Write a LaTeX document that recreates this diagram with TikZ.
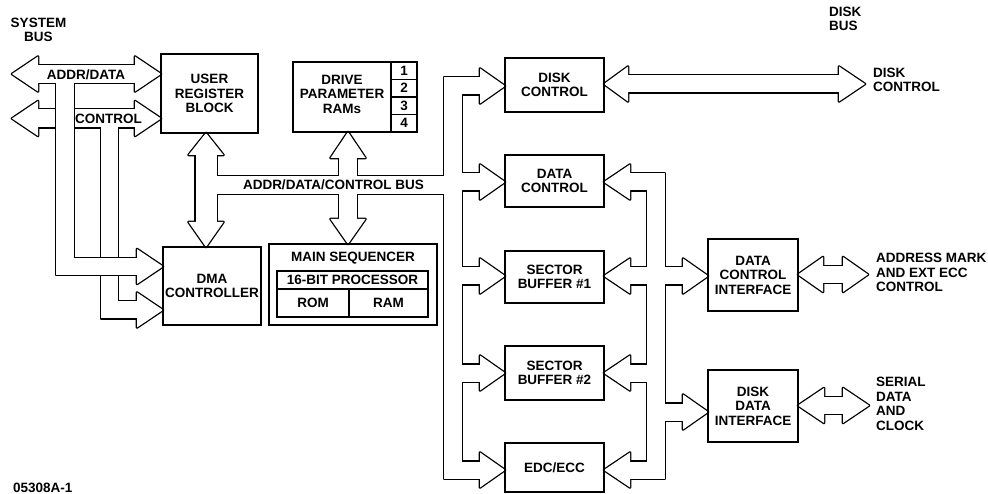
\documentclass[tikz,border=0pt]{standalone}
\usepackage{fontspec}
\setmainfont{Liberation Sans}
\newcommand\harr[4]{(#1,#3-#4)--(#2,#3)--(#1,#3+#4)--cycle}
\newcommand\varr[4]{(#3-#4,#1)--(#3,#2)--(#3+#4,#1)--cycle}
\newcommand\busCtl[1]{%
 \path[#1] \harr{38}{12}{118.5}{17.5};
 \path[#1] (36,109.5) rectangle (137,127.5);
 \path[#1] \harr{135}{161}{118.5}{17.5};
 \path[#1] (101,120) rectangle (118,318.5);
 \path[#1] (101,301.5) rectangle (139,318.5);
 \path[#1] \harr{137}{163}{310}{17.5};
}
\newcommand\busAD[1]{%
 \path[#1] \harr{38}{12}{74}{17.5};
 \path[#1] (36,65) rectangle (137,83);
 \path[#1] \harr{135}{161}{74}{17.5};
 \path[#1] (56,75) rectangle (74,275);
 \path[#1] (56,258) rectangle (139,275);
 \path[#1] \harr{137}{163}{266.5}{17.5};
}
\newcommand\busMain[1]{%
 \path[#1] \varr{155}{133}{206}{17.5};
 \path[#1] (195.5,153) rectangle (216.5,224);
 \path[#1] \varr{222}{247}{206}{17.5};
 \path[#1] (214,176) rectangle (450,194);
 \path[#1] \varr{158}{132}{348}{17.5};
 \path[#1] (339,156) rectangle (357,221);
 \path[#1] \varr{219}{244}{348}{17.5};
 \path[#1] (444,77.5) rectangle (462,478.5);
 \path[#1] (444,77.5) rectangle (482,94.5);
 \path[#1] \harr{480}{505}{86}{17.5};
 \foreach \c in {182,276,373} {
   \path[#1] (455,\c-8.5) rectangle (482,\c+8.5);
   \path[#1] \harr{480}{505}{\c}{17.5};
 }
 \path[#1] (444,461.5) rectangle (482,478.5);
 \path[#1] \harr{480}{505}{470}{17.5};
}
\newcommand\busRight[1]{%
 \path[#1] (647,173.5) rectangle (665,478.5);
 \path[#1] (628,173.5) rectangle (665,190.5);
 \path[#1] \harr{630}{604}{182}{17.5};
 \foreach \c in {276,373} {
   \path[#1] (628,\c-8.5) rectangle (655,\c+8.5);
   \path[#1] \harr{630}{604}{\c}{17.5};
 }
 \path[#1] (628,461.5) rectangle (665,478.5);
 \path[#1] \harr{630}{604}{470}{17.5};
 \foreach \c in {276,412} {
   \path[#1] (655,\c-8.5) rectangle (685,\c+8.5);
   \path[#1] \harr{683}{708}{\c}{17.5};
 }
}
\newcommand\dblarr[6]{%
 \path[#6] \harr{#2}{#1}{#5}{17.5};
 \path[#6] (#2-2,#5-8.5) rectangle (#3+2,#5+8.5);
 \path[#6] \harr{#3}{#4}{#5}{17.5};
}
\tikzset{
 txt/.style={font=\bfseries\fontsize{13.5}{14.5}\selectfont},
 lbl/.style={txt, inner sep=0pt, align=center},
 box/.style={lbl, draw, line width=1.6pt},
 cell/.style={lbl, draw, line width=1.3pt},
 outl/.style={draw, line width=2.6pt, line join=round},
 inner/.style={fill=white},
}
\begin{document}
\begin{tikzpicture}[x=1pt,y=-1pt]
\useasboundingbox (0,0) rectangle (988,494);
% hollow buses
\busCtl{outl}\busCtl{inner}
\busAD{outl}\busAD{inner}
\busMain{outl}\busMain{inner}
\busRight{outl}\busRight{inner}
\dblarr{604}{628}{839}{865}{84}{outl}\dblarr{604}{628}{839}{865}{84}{inner}
\dblarr{798}{823}{843}{868}{274.5}{outl}\dblarr{798}{823}{843}{868}{274.5}{inner}
\dblarr{798}{824}{843}{869}{405.5}{outl}\dblarr{798}{824}{843}{869}{405.5}{inner}
% boxes
\node[box, minimum width=97pt, minimum height=79pt] (urb) at (209.5,93.5) {USER\\REGISTER\\BLOCK};
\node[box, minimum width=98pt, minimum height=78pt] (dma) at (212,286) {DMA\\CONTROLLER};
\node[box, minimum width=98pt, minimum height=70pt] (dpr) at (342,97) {};
\node[lbl] (dprt) at (342,94) {DRIVE\\PARAMETER\\RAMs};
\foreach \k in {1,2,3,4}
  \node[cell, minimum width=26pt, minimum height=17.5pt] (r\k) at (404,53.25+17.5*\k) {\k};
\node[box, minimum width=168pt, minimum height=81pt] (ms) at (353,284.5) {};
\node[lbl] (mst) at (353,258) {MAIN SEQUENCER};
\node[cell, minimum width=151pt, minimum height=18pt] (proc) at (352.5,280) {16-BIT PROCESSOR};
\node[cell, minimum width=72pt, minimum height=28pt] (rom) at (313,303) {ROM};
\node[cell, minimum width=79pt, minimum height=28pt] (ram) at (388.5,303) {RAM};
\node[box, minimum width=99pt, minimum height=54pt] (dkc) at (554.5,85) {DISK\\CONTROL};
\node[box, minimum width=99pt, minimum height=52pt] (dac) at (554.5,181) {DATA\\CONTROL};
\node[box, minimum width=99pt, minimum height=52pt] (sb1) at (554.5,277) {SECTOR\\BUFFER \#1};
\node[box, minimum width=99pt, minimum height=54pt] (sb2) at (554.5,373) {SECTOR\\BUFFER \#2};
\node[box, minimum width=99pt, minimum height=49pt] (edc) at (554.5,467.5) {EDC/ECC};
\node[box, minimum width=90pt, minimum height=72pt] (dci) at (753,275) {DATA\\CONTROL\\INTERFACE};
\node[box, minimum width=90pt, minimum height=72pt] (ddi) at (753,406) {DISK\\DATA\\INTERFACE};
% labels
\node[lbl] (sysbus) at (38.5,30) {SYSTEM\\BUS};
\node[lbl, align=left, anchor=west] (diskbus) at (829,19) {DISK\\BUS};
\node[lbl, align=left, anchor=west] (dkcl) at (873,80) {DISK\\CONTROL};
\node[lbl, align=left, anchor=west] (aml) at (876,272.5) {ADDRESS MARK\\AND EXT ECC\\CONTROL};
\node[lbl, align=left, anchor=west] (serl) at (876,404) {SERIAL\\DATA\\AND\\CLOCK};
\node[lbl, anchor=west] (fig) at (13,488) {05308A-1};
\node[lbl] (adl) at (86,74.5) {ADDR/DATA};
\node[lbl] (ctll) at (108.5,119) {CONTROL};
\node[lbl] (busl) at (333.5,185) {ADDR/DATA/CONTROL BUS};
\end{tikzpicture}
\end{document}
